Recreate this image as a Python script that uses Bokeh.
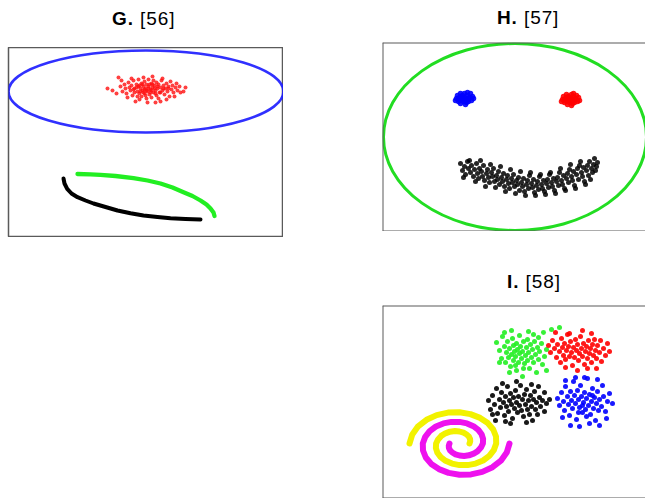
from bokeh.plotting import figure
from bokeh.layouts import column, row
from bokeh.models import Range1d, Spacer, Div, Span
from bokeh.embed import file_html
from bokeh.resources import INLINE

# ---------------- Panel G data (picture coordinates, y downward) ----------------
g_ellipse_x = [145.5]
g_ellipse_y = [91]
g_ellipse_w = [275]
g_ellipse_h = [82]

g_red_x = [107, 112, 118, 120, 122, 124, 125, 126, 128, 129, 130, 131, 132, 133, 134, 135, 136, 137, 138, 138,
           139, 140, 141, 141, 142, 143, 144, 144, 145, 146, 146, 147, 148, 148, 149, 150, 151, 151, 152, 153,
           153, 154, 155, 156, 156, 157, 158, 159, 160, 160, 161, 162, 163, 164, 165, 166, 167, 168, 169, 170,
           171, 172, 173, 175, 176, 177, 179, 180, 183, 185, 127, 134, 139, 143, 152, 158, 162, 166, 174, 121,
           116, 147, 155, 131, 137, 149, 150, 145, 142, 154, 140, 146, 136, 144, 151, 157, 163, 148, 139, 155,
           160, 133, 168, 143, 152]
g_red_y = [88, 90, 77, 86, 91, 84, 88, 93, 82, 87, 90, 85, 95, 80, 88, 101, 84, 91, 86, 79,
           93, 88, 83, 96, 90, 86, 81, 93, 88, 84, 98, 91, 86, 79, 94, 89, 83, 97, 87, 92,
           80, 85, 90, 95, 82, 88, 84, 92, 101, 87, 80, 90, 85, 94, 88, 83, 91, 86, 96, 81,
           89, 85, 92, 87, 83, 90, 86, 92, 91, 87, 97, 92, 99, 77, 76, 98, 78, 99, 96, 80,
           93, 102, 102, 78, 96, 84, 92, 95, 84, 88, 91, 90, 87, 89, 90, 86, 88, 88, 85, 93,
           92, 89, 88, 92, 84]

g_green_x = [77, 90, 100, 115, 133, 147, 160, 172, 183, 192, 200, 206, 210, 213, 214]
g_green_y = [173.5, 173.8, 174.3, 175.5, 177.7, 180, 183, 187, 191.7, 195.5, 200, 204, 208, 212, 215.5]
g_black_x = [63, 64, 66.7, 71, 77, 85, 93, 105, 117, 130, 143, 157, 170, 185, 200]
g_black_y = [178, 183, 188.3, 193, 196.7, 200, 203, 206.5, 210, 212.8, 215, 216.5, 217.7, 218.5, 219]

# ---------------- Panel H data ----------------
h_face_x = [514.5]
h_face_y = [136.5]
h_face_w = [263]
h_face_h = [187]

h_blue_x = [456, 457, 458, 459, 460, 460, 461, 462, 463, 464, 464, 465, 466, 467, 468, 469, 470, 471, 472, 462,
            466, 458, 468, 464, 461, 467, 455, 473]
h_blue_y = [98, 95, 101, 97, 93, 103, 99, 95, 101, 97, 93, 104, 99, 95, 101, 97, 93, 100, 96, 98,
            102, 99, 98, 100, 96, 92, 100, 98]
h_red_x = [562, 563, 564, 565, 566, 567, 567, 568, 569, 570, 571, 571, 572, 573, 574, 575, 576, 577, 578, 568,
           572, 564, 574, 570, 567, 573, 561, 579]
h_red_y = [99, 96, 102, 98, 94, 104, 100, 96, 102, 98, 94, 105, 100, 96, 102, 98, 95, 101, 97, 99,
           103, 100, 99, 101, 97, 93, 101, 100]

h_mouth_x = [460, 462, 464, 465, 467, 468, 470, 471, 473, 474, 476, 477, 478, 479, 481, 482, 483, 484, 486, 487,
             488, 489, 491, 492, 493, 494, 496, 497, 498, 499, 501, 502, 503, 504, 506, 507, 508, 509, 511, 512,
             513, 514, 516, 517, 518, 519, 521, 522, 523, 524, 526, 527, 528, 529, 531, 532, 533, 534, 536, 537,
             538, 539, 541, 542, 543, 544, 546, 547, 548, 549, 551, 552, 553, 554, 556, 557, 558, 559, 561, 562,
             563, 564, 566, 567, 568, 569, 571, 572, 573, 574, 576, 577, 578, 579, 581, 582, 583, 584, 586, 587,
             588, 589, 591, 592, 593, 594, 595, 596, 597, 463, 469, 475, 485, 495, 505, 515, 525, 535, 545, 555,
             565, 575, 585, 590, 580, 570, 560, 550, 540, 530, 520, 510, 500, 490, 480]
h_mouth_y = [163, 170, 166, 174, 161, 168, 172, 165, 176, 169, 163, 173, 178, 168, 171, 176, 165, 180, 173, 169,
             177, 182, 172, 176, 168, 181, 175, 179, 171, 184, 177, 181, 173, 186, 179, 175, 183, 188, 178, 182,
             174, 186, 180, 184, 177, 190, 182, 186, 178, 191, 184, 180, 188, 175, 183, 187, 179, 192, 185, 181,
             189, 176, 184, 188, 180, 191, 183, 179, 187, 174, 182, 186, 178, 190, 181, 177, 185, 172, 180, 184,
             175, 188, 178, 173, 182, 169, 176, 180, 171, 185, 174, 168, 179, 165, 172, 176, 167, 181, 170, 165,
             175, 161, 168, 172, 164, 158, 170, 166, 162, 177, 160, 181, 186, 187, 191, 193, 195, 195, 194, 193,
             190, 188, 184, 179, 161, 164, 168, 172, 174, 172, 171, 169, 166, 164, 160]

# ---------------- Panel I data ----------------
i_green_x = [497, 500, 502, 503, 505, 506, 507, 508, 509, 510, 511, 512, 513, 514, 514, 515, 516, 517, 517, 518,
             519, 520, 520, 521, 522, 523, 523, 524, 525, 526, 527, 528, 528, 529, 530, 531, 532, 533, 534, 535,
             536, 537, 538, 539, 540, 542, 543, 545, 547, 505, 512, 529, 534, 547, 500, 516, 524, 510, 539, 544,
             552, 560]
i_green_y = [342, 350, 358, 336, 346, 362, 352, 341, 357, 348, 366, 354, 338, 345, 360, 351, 356, 343, 370, 349,
             362, 353, 335, 346, 358, 351, 376, 341, 363, 355, 347, 360, 339, 352, 368, 344, 357, 349, 362, 341,
             354, 372, 347, 359, 351, 343, 364, 356, 349, 332, 330, 331, 334, 370, 362, 365, 368, 372, 337, 332,
             329, 327]
i_red_x = [549, 551, 553, 555, 557, 558, 560, 561, 562, 563, 564, 565, 566, 567, 568, 569, 570, 571, 572, 573,
           574, 575, 576, 577, 578, 579, 580, 581, 582, 583, 584, 585, 586, 587, 588, 589, 590, 591, 592, 593,
           594, 595, 596, 597, 598, 600, 601, 602, 604, 606, 608, 610, 578, 588, 570, 592, 556, 597, 583, 566]
i_red_y = [345, 352, 340, 348, 357, 344, 351, 362, 338, 347, 355, 343, 359, 350, 334, 346, 356, 341, 352, 365,
           347, 357, 339, 350, 344, 360, 353, 336, 348, 356, 343, 364, 351, 346, 358, 340, 353, 348, 362, 344,
           355, 339, 350, 358, 345, 352, 340, 361, 348, 355, 343, 351, 370, 368, 333, 333, 332, 368, 330, 367]
i_black_x = [489, 491, 493, 495, 497, 498, 500, 501, 502, 504, 505, 506, 507, 508, 509, 510, 511, 512, 513, 514,
             515, 516, 517, 518, 519, 520, 521, 522, 523, 524, 525, 526, 527, 528, 529, 530, 531, 532, 533, 534,
             535, 536, 537, 538, 540, 541, 543, 545, 547, 550, 496, 503, 511, 527, 539, 517, 545, 493, 506, 532]
i_black_y = [400, 409, 395, 404, 388, 413, 399, 407, 392, 402, 415, 396, 406, 386, 411, 400, 393, 404, 418, 397,
             408, 390, 402, 412, 396, 405, 385, 410, 399, 416, 394, 404, 389, 409, 400, 414, 395, 406, 420, 399,
             391, 409, 402, 414, 397, 406, 400, 411, 403, 399, 420, 383, 423, 422, 386, 381, 392, 414, 421, 384]
i_blue_x = [558, 560, 562, 564, 565, 566, 568, 569, 570, 571, 572, 573, 574, 575, 576, 577, 578, 579, 580, 581,
            582, 583, 584, 585, 586, 587, 588, 589, 590, 591, 592, 593, 594, 595, 596, 597, 598, 599, 600, 602,
            603, 604, 606, 608, 610, 613, 563, 571, 580, 590, 598, 585, 576, 607, 600, 566, 587, 579, 593, 583]
i_blue_y = [398, 405, 392, 401, 410, 386, 396, 404, 415, 391, 400, 408, 381, 395, 403, 419, 390, 399, 407, 385,
            396, 412, 402, 392, 409, 398, 378, 405, 394, 414, 401, 388, 408, 397, 420, 403, 391, 410, 399, 406,
            385, 396, 411, 401, 393, 403, 417, 425, 426, 423, 379, 377, 377, 418, 425, 380, 416, 412, 395, 405]

i_yellow_x = [410, 412.8, 418.6, 427, 437.2, 448.5, 460, 470.9, 480.6, 488.3, 493.7, 496.5, 496.7, 494.3, 489.8,
              483.6, 476.1, 468.1, 460, 452.5, 446.1, 441.2, 437.9, 436.4, 436.6, 438.6, 441.7, 445.9, 450.5,
              455.4, 460, 464, 467.2, 469.4, 470.6, 470.7, 470]
i_yellow_y = [443, 433.9, 425.8, 419.3, 414.6, 412.1, 411.8, 413.6, 417.4, 422.6, 429, 436, 443, 449.6, 455.4,
              460, 463.1, 464.6, 464.6, 463.1, 460.3, 456.6, 452.2, 447.6, 443, 438.9, 435.4, 432.8, 431.2,
              430.6, 431, 432.2, 434, 436.2, 438.6, 440.9, 443]
i_magenta_x = [510, 507.2, 501.4, 493, 482.8, 471.5, 460, 449.1, 439.4, 431.7, 426.3, 423.5, 423.3, 425.7, 430.2,
               436.4, 443.9, 451.9, 460, 467.5, 473.9, 478.8, 482.1, 483.6, 483.4, 481.4, 478.3, 474.1, 469.5,
               464.6, 460, 456, 452.8, 450.6, 449.4, 449.3, 450]
i_magenta_y = [443, 452.1, 460.2, 466.7, 471.4, 473.9, 474.2, 472.4, 468.6, 463.4, 457, 450, 443, 436.4, 430.6,
               426, 422.9, 421.4, 421.4, 422.9, 425.7, 429.4, 433.8, 438.4, 443, 447.1, 450.6, 453.2, 454.8,
               455.4, 455, 453.8, 452, 449.8, 447.4, 445.1, 443]

# ranges of the three frames, in picture coordinates
G_XR, G_YR = (8, 283), (237, 47)
H_XR, H_YR = (382, 645), (231, 42)
I_XR, I_YR = (383, 646), (498, 305)

BORDER = "#5a5a5a"


def panel(width, height, left, xr, yr, outline=True):
    p = figure(width=width, height=height, x_range=Range1d(*xr), y_range=Range1d(*yr),
               output_backend="svg", toolbar_location=None,
               x_axis_location=None, y_axis_location=None,
               min_border_left=left, min_border_right=0, min_border_bottom=0, min_border_top=0,
               background_fill_color="white", border_fill_color="white",
               outline_line_color=BORDER if outline else None, outline_line_width=1.5)
    p.xgrid.grid_line_color = None
    p.ygrid.grid_line_color = None
    if not outline:
        # the right edge of these panels is cut off by the window in the reference
        p.add_layout(Span(location=xr[0], dimension="height", line_color=BORDER, line_width=2))
        p.add_layout(Span(location=yr[0], dimension="width", line_color=BORDER, line_width=2))
        p.add_layout(Span(location=yr[1], dimension="width", line_color=BORDER, line_width=2))
    return p


def title_div(letter, ref, width, height, pad_top, pad_left):
    html = ('<div style="margin-left:%dpx;padding-top:%dpx;text-align:left;white-space:nowrap;'
            'font-family:\'Liberation Sans\',Arial,sans-serif;font-size:19px;line-height:19px;'
            'letter-spacing:0.9px;color:#000">'
            '<b>%s</b> %s</div>') % (pad_left, pad_top, letter, ref)
    return Div(text=html, width=width, height=height, margin=0)


# ---- G ----
g = panel(283, 190, 8, G_XR, G_YR)
g.ellipse(x=g_ellipse_x, y=g_ellipse_y, width=g_ellipse_w, height=g_ellipse_h,
          fill_color=None, line_color="#1a1aff", line_width=2.6, line_alpha=0.9)
g.scatter(g_red_x, g_red_y, size=4, fill_color="#ff1010", line_color=None, fill_alpha=0.8)
g.line(g_green_x, g_green_y, line_color="#22ee22", line_width=4.3, line_cap="round", line_join="round")
g.line(g_black_x, g_black_y, line_color="black", line_width=4, line_cap="round", line_join="round")

# ---- H ----
h = panel(263, 189, 0, H_XR, H_YR, outline=False)
h.ellipse(x=h_face_x, y=h_face_y, width=h_face_w, height=h_face_h,
          fill_color=None, line_color="#22dd22", line_width=3)
h.scatter(h_blue_x, h_blue_y, size=5.5, fill_color="#0000ff", line_color=None, fill_alpha=0.9)
h.scatter(h_red_x, h_red_y, size=5.5, fill_color="#ff0000", line_color=None, fill_alpha=0.9)
h.scatter(h_mouth_x, h_mouth_y, size=5, fill_color="black", line_color=None, fill_alpha=0.85)

# ---- I ----
i = panel(263, 193, 0, I_XR, I_YR, outline=False)
i.line(i_yellow_x, i_yellow_y, line_color="#f2f200", line_width=6, line_cap="round", line_join="round")
i.line(i_magenta_x, i_magenta_y, line_color="#ee11ee", line_width=6, line_cap="round", line_join="round")
i.scatter(i_green_x, i_green_y, size=5, fill_color="#22ee22", line_color=None, fill_alpha=0.9)
i.scatter(i_red_x, i_red_y, size=5, fill_color="#ff0000", line_color=None, fill_alpha=0.9)
i.scatter(i_black_x, i_black_y, size=5, fill_color="black", line_color=None, fill_alpha=0.9)
i.scatter(i_blue_x, i_blue_y, size=5, fill_color="#0000ff", line_color=None, fill_alpha=0.9)

left_col = column(title_div("G.", "[56]", 283, 47, 9, 112), g)
right_col = column(title_div("H.", "[57]", 263, 42, 8, 115), h,
                   title_div("I.", "[58]", 263, 74, 41, 125), i)
page = row(left_col, Spacer(width=99, height=10), right_col)

open("out.html", "w").write(file_html(page, INLINE))
